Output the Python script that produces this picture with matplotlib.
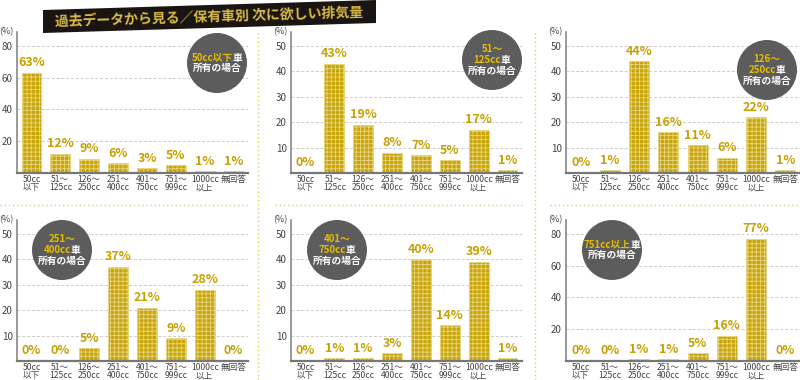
import numpy as np
import matplotlib
matplotlib.use("Agg")
import matplotlib.pyplot as plt
from matplotlib.patches import Circle, Polygon
from matplotlib.transforms import IdentityTransform
from matplotlib.offsetbox import TextArea, HPacker, VPacker, AnnotationBbox

plt.rcParams['font.family'] = ['Noto Sans CJK JP', 'DejaVu Sans']
plt.rcParams['hatch.linewidth'] = 0.6

# データ
categories = ["50cc\n以下", "51〜\n125cc", "126〜\n250cc", "251〜\n400cc",
              "401〜\n750cc", "751〜\n999cc", "1000cc\n以上", "無回答"]
v_50 = [63, 12, 9, 6, 3, 5, 1, 1]
v_125 = [0, 43, 19, 8, 7, 5, 17, 1]
v_250 = [0, 1, 44, 16, 11, 6, 22, 1]
v_400 = [0, 0, 5, 37, 21, 9, 28, 0]
v_750 = [0, 1, 1, 3, 40, 14, 39, 1]
v_751 = [0, 0, 1, 1, 5, 16, 77, 0]

# バッジ文字 (金色部分, 白部分) の行
badge_50 = [[("50cc以下", "g"), ("車", "w")], [("所有の場合", "w")]]
badge_125 = [[("51〜", "g")], [("125cc", "g"), ("車", "w")], [("所有の場合", "w")]]
badge_250 = [[("126〜", "g")], [("250cc", "g"), ("車", "w")], [("所有の場合", "w")]]
badge_400 = [[("251〜", "g")], [("400cc", "g"), ("車", "w")], [("所有の場合", "w")]]
badge_750 = [[("401〜", "g")], [("750cc", "g"), ("車", "w")], [("所有の場合", "w")]]
badge_751 = [[("751cc以上", "g"), ("車", "w")], [("所有の場合", "w")]]

title = "過去データから見る／保有車別 次に欲しい排気量"

W, H = 800, 380
GOLD = "#c9a50c"
LBL = "#c8a000"
BADGE_GOLD = "#e6bd00"

fig = plt.figure(figsize=(8, 3.8), dpi=100)
fig.patch.set_facecolor("white")

# (left px, right px, baseline px from top, values, ymax, ticks, badge, badge center)
panels = [
    (17, 248, 173, v_50, 88.8, [20, 40, 60, 80], badge_50, (217, 63)),
    (291, 522, 173, v_125, 55.5, [10, 20, 30, 40, 50], badge_125, (492, 60)),
    (566, 800, 173, v_250, 55.5, [10, 20, 30, 40, 50], badge_250, (767, 70)),
    (17, 248, 361, v_400, 55.5, [10, 20, 30, 40, 50], badge_400, (62, 250)),
    (291, 522, 361, v_750, 55.5, [10, 20, 30, 40, 50], badge_750, (337, 250)),
    (566, 800, 361, v_751, 88.8, [20, 40, 60, 80], badge_751, (612, 250)),
]

x = np.arange(len(categories))
for left, right, base, vals, ymax, ticks, badge, center in panels:
    ax = fig.add_axes([left / W, (H - base) / H, (right - left) / W, 141 / H])
    ax.set_xlim(-0.5, len(categories) - 0.5)
    ax.set_ylim(0, ymax)
    for t in ticks:
        ax.axhline(t, color="#cccccc", lw=0.7, ls=(0, (3, 2)), zorder=0)
    bars = ax.bar(x, vals, width=0.68, color=GOLD, edgecolor="#e8d57e",
                  hatch="++++", linewidth=0.6, zorder=2)
    for xi, v in zip(x, vals):
        ax.text(xi, v + ymax * 0.025, f"{v}%", ha="center", va="bottom",
                color=LBL, fontsize=9, fontweight="bold", zorder=3)
    ax.set_yticks(ticks)
    ax.set_yticklabels([str(t) for t in ticks], fontsize=7, color="#444444")
    ax.set_xticks(x)
    ax.set_xticklabels(categories, fontsize=6.2, color="#444444", linespacing=0.85, va="top")
    ax.tick_params(axis="both", length=0, pad=3)
    ax.tick_params(axis="x", pad=1.5)
    for s in ["top", "right"]:
        ax.spines[s].set_visible(False)
    ax.spines["left"].set_color("#888888")
    ax.spines["left"].set_linewidth(1.2)
    ax.spines["bottom"].set_color("#777777")
    ax.spines["bottom"].set_linewidth(1.6)
    ax.patch.set_alpha(0)
    ax.text(-0.015, 1.0, "(%)", transform=ax.transAxes, ha="right", va="center",
            fontsize=6.5, color="#444444")

    # バッジ
    cx, cy = center
    fig.add_artist(Circle((cx, H - cy), 30, transform=IdentityTransform(),
                          facecolor="#5c5c5c", edgecolor="none", zorder=5))
    rows = []
    for line in badge:
        parts = [TextArea(s, textprops=dict(color=BADGE_GOLD if c == "g" else "white",
                                             fontsize=7, fontweight="bold"))
                 for s, c in line]
        rows.append(HPacker(children=parts, align="center", pad=0, sep=0))
    box = VPacker(children=rows, align="center", pad=0, sep=0.5)
    ab = AnnotationBbox(box, (cx, H - cy), xycoords="figure pixels", frameon=False,
                        box_alignment=(0.5, 0.5), zorder=6)
    fig.add_artist(ab)

# 区切り線
dot = dict(color="#ecc95a", lw=1.0, ls=(0, (1, 2)), transform=IdentityTransform())
for xd in [258, 535]:
    fig.add_artist(plt.Line2D([xd, xd], [0, H - 30], **dot))
for x0, x1 in [(0, 248), (275, 522), (550, 800)]:
    fig.add_artist(plt.Line2D([x0, x1], [H - 205, H - 205], **dot))

# タイトル帯
fig.add_artist(Polygon([(43, H - 10), (376, H - 0), (376, H - 23), (43, H - 33)],
                       closed=True, transform=IdentityTransform(),
                       facecolor="#1a1512", edgecolor="none", zorder=7))
fig.text(209 / W, (H - 17) / H, title, ha="center", va="center", fontsize=10,
         fontweight="bold", color="#d9bc45", rotation=1.7, zorder=8)

fig.savefig("out.png", dpi=100)
